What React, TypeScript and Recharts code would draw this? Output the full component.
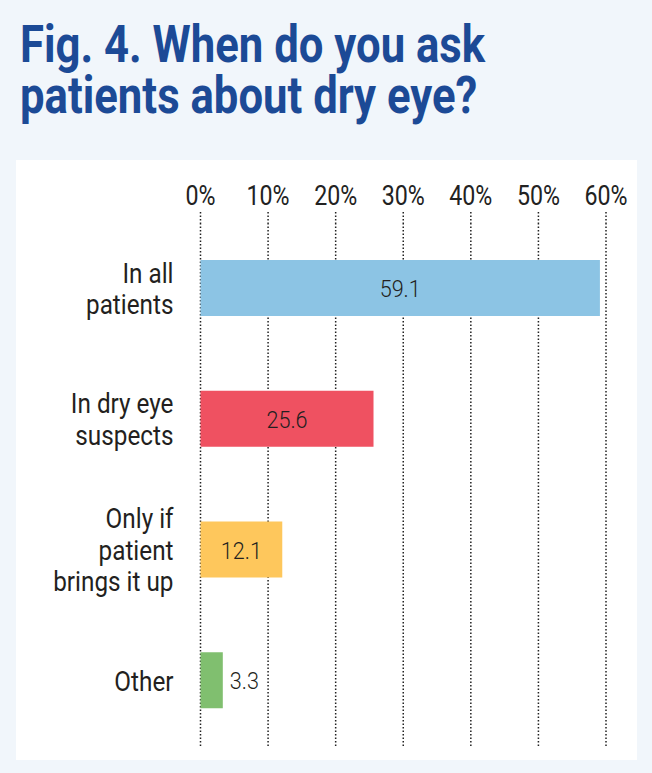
import { Bar, BarChart, CartesianGrid, Cell, LabelList, XAxis, YAxis } from "recharts";

const categories = ["In all patients", "In dry eye suspects", "Only if patient brings it up", "Other"];
const labelLines = [["In all", "patients"], ["In dry eye", "suspects"], ["Only if", "patient", "brings it up"], ["Other"]];
const values = [59.1, 25.6, 12.1, 3.3];
const barColors = ["#8cc4e4", "#ef5161", "#fec75c", "#80bf6f"];
const xTicks = [0, 10, 20, 30, 40, 50, 60];

const chartData = categories.map((name, i) => ({ name, value: values[i] }));

const FONT = "Roboto, 'Noto Sans', sans-serif";
const SQUEEZE = 0.86;
const DOTS = { stroke: "#222", strokeWidth: 1.5, strokeDasharray: "1.5 2" };

function PercentTick({ x, y, payload }: any) {
  return (
    <g transform={`translate(${x},${y - 1})`}>
      <text transform={`scale(${SQUEEZE},1)`} textAnchor="middle" fontSize={27} fontFamily={FONT} fill="#222">
        {payload.value}%
      </text>
    </g>
  );
}

function CategoryTick({ x, y, payload }: any) {
  const lines = labelLines[categories.indexOf(payload.value)] ?? [payload.value];
  const lh = 31.5;
  return (
    <g transform={`translate(${x},${y})`}>
      {lines.map((line, i) => (
        <text
          key={line}
          transform={`translate(0,${(i - (lines.length - 1) / 2) * lh + 10}) scale(0.9,1)`}
          textAnchor="end"
          fontSize={27}
          fontFamily={FONT}
          fill="#231f20"
        >
          {line}
        </text>
      ))}
    </g>
  );
}

function ValueLabel({ x, y, width, height, value }: any) {
  const inside = width > 40;
  const tx = inside ? x + width / 2 : x + width + 7;
  return (
    <g transform={`translate(${tx},${y + height / 2 + 9})`}>
      <text
        transform="scale(0.9,1)"
        textAnchor={inside ? "middle" : "start"}
        fontSize={24}
        fontWeight={300}
        fontFamily={FONT}
        fill="#231f20"
      >
        {value}
      </text>
    </g>
  );
}

export default function App() {
  return (
    <div style={{ position: "absolute", left: 0, top: 0, width: 652, height: 773, background: "#f1f6fb" }}>
      <div
        style={{
          position: "absolute",
          left: 20,
          top: 19,
          width: 570,
          fontFamily: FONT,
          fontWeight: 700,
          fontSize: 52,
          lineHeight: "51px",
          color: "#1c4a96",
          transform: "scaleX(0.84)",
          transformOrigin: "left top",
        }}
      >
        Fig. 4. When do you ask patients about dry eye?
      </div>
      <div style={{ position: "absolute", left: 16, top: 160, width: 621, height: 600, background: "#ffffff" }}>
        <BarChart
          width={621}
          height={600}
          data={chartData}
          layout="vertical"
          barSize={56}
          margin={{ top: 23, right: 31, bottom: 14, left: 0 }}
        >
          <CartesianGrid horizontal={false} {...DOTS} />
          <XAxis
            type="number"
            orientation="top"
            domain={[0, 60]}
            ticks={xTicks}
            height={40}
            axisLine={false}
            tickLine={DOTS}
            tickSize={11}
            tickMargin={6}
            tick={<PercentTick />}
          />
          <YAxis
            type="category"
            dataKey="name"
            width={184.5}
            axisLine={false}
            tickLine={false}
            tickSize={0}
            tickMargin={27}
            tick={<CategoryTick />}
          />
          <Bar dataKey="value" isAnimationActive={false}>
            {chartData.map((entry, i) => (
              <Cell key={entry.name} fill={barColors[i]} />
            ))}
            <LabelList dataKey="value" content={<ValueLabel />} />
          </Bar>
        </BarChart>
      </div>
    </div>
  );
}
